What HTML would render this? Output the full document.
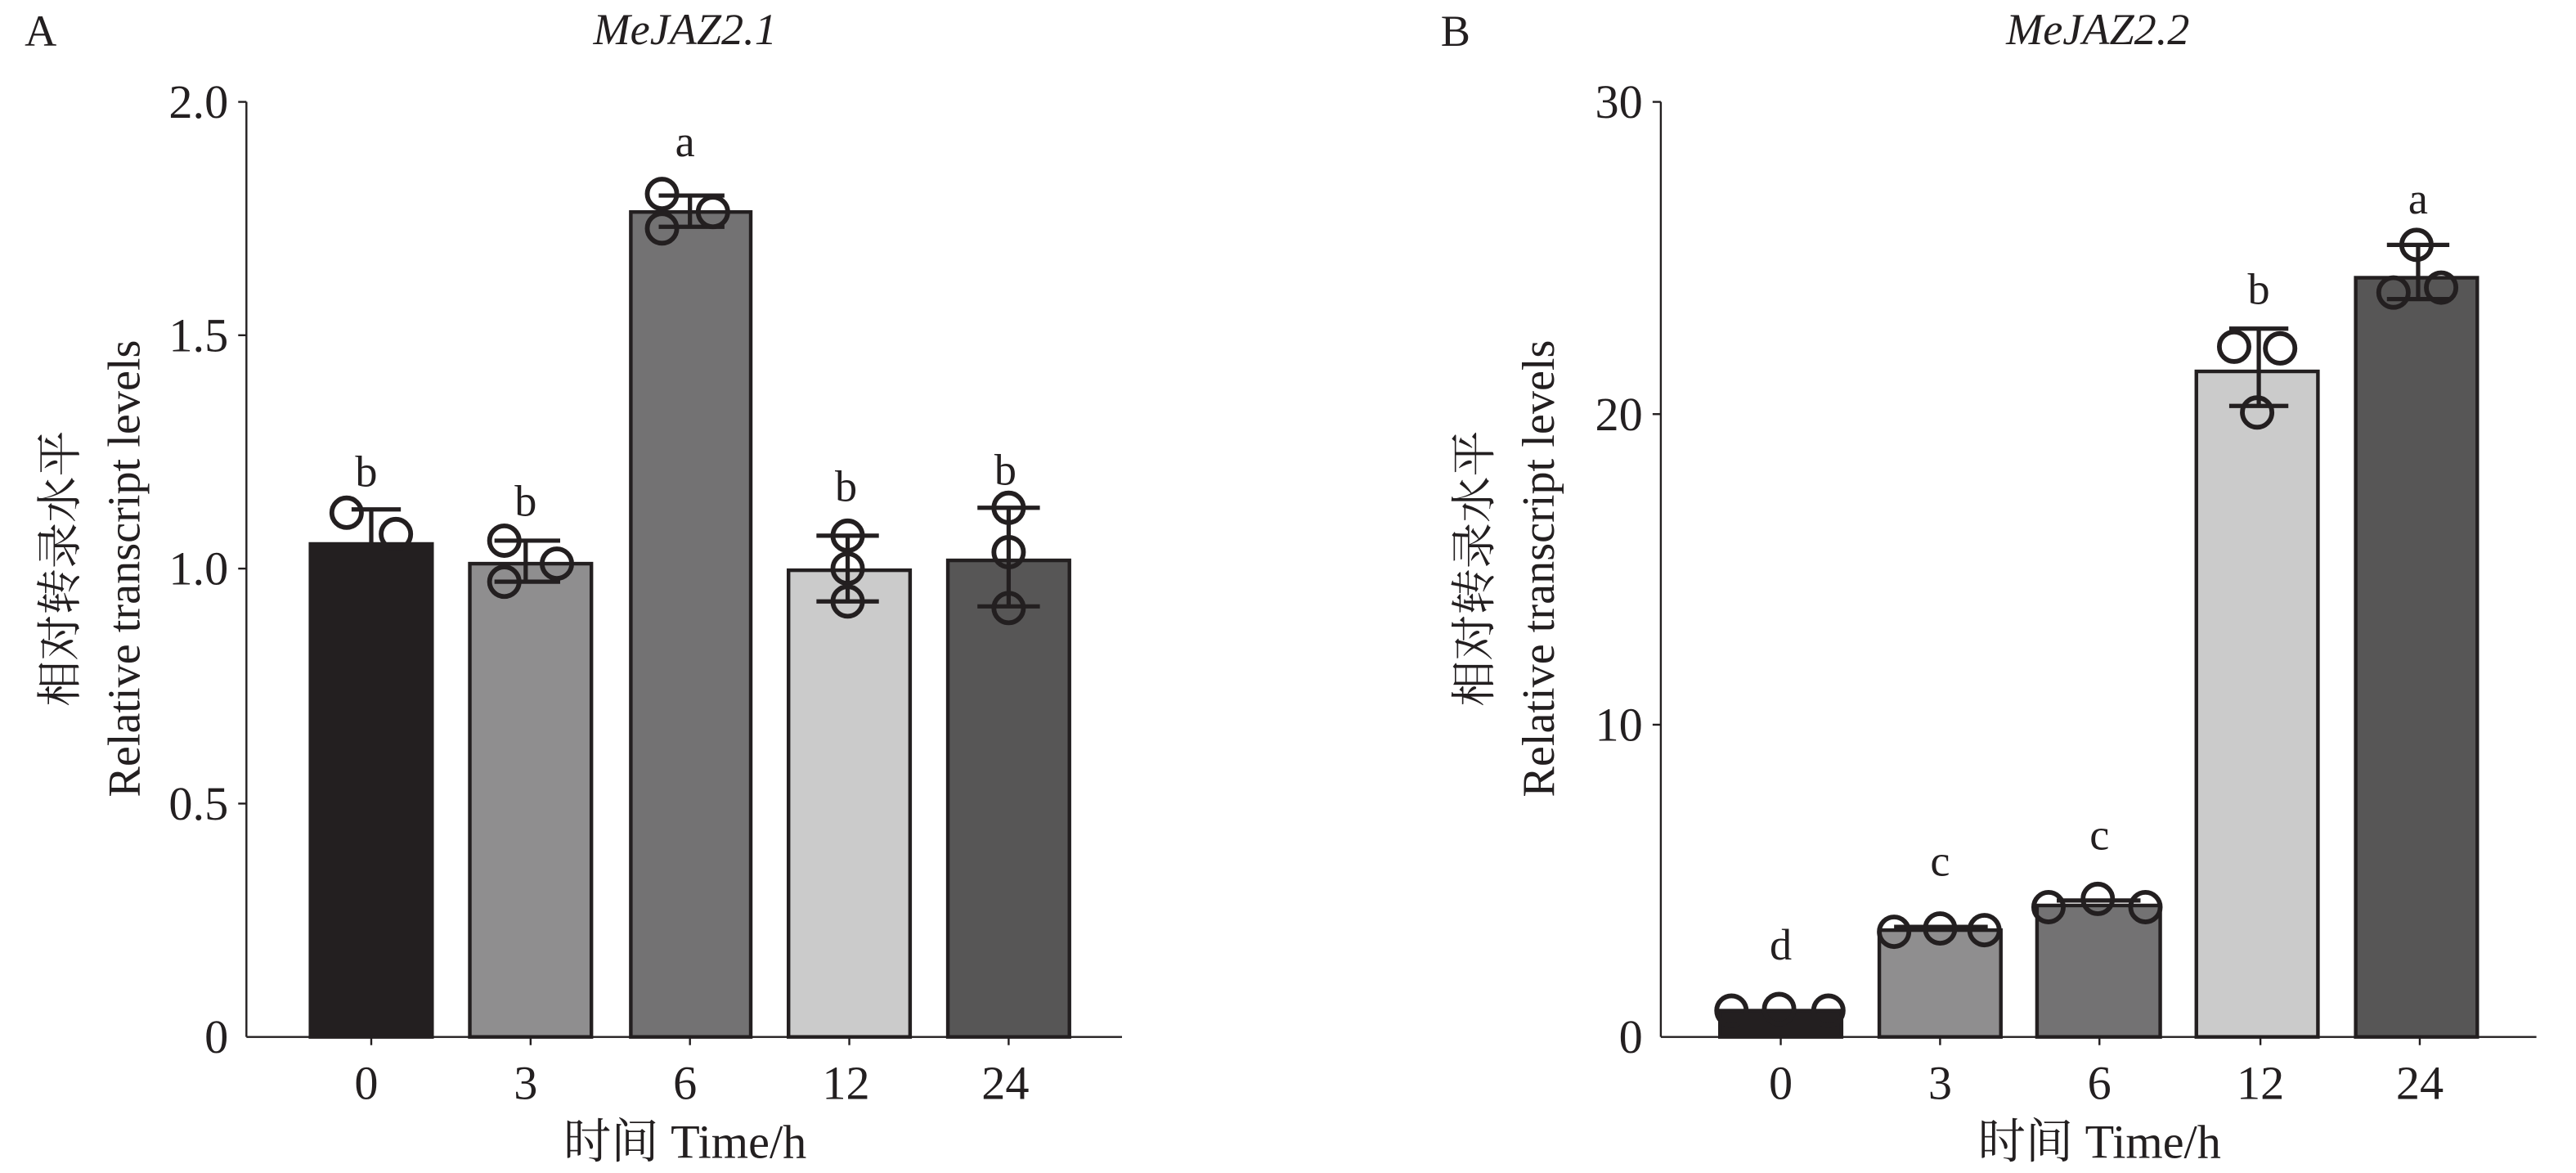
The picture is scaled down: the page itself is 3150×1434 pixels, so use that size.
<!DOCTYPE html>
<html><head><meta charset="utf-8"><style>html,body{margin:0;padding:0;background:#fff}svg{display:block}</style></head>
<body>
<svg width="3150" height="1434" viewBox="0 0 1568.1 713.8" preserveAspectRatio="none" xmlns="http://www.w3.org/2000/svg" font-family="'Liberation Serif','Noto Serif CJK SC',serif" fill="#231f20">
<g stroke="#231f20" stroke-width="1.2">
<line x1="150" y1="62" x2="150" y2="631"/><line x1="150" y1="631" x2="683" y2="631"/>
<line x1="145" y1="62" x2="150" y2="62"/><line x1="145" y1="204" x2="150" y2="204"/><line x1="145" y1="346" x2="150" y2="346"/><line x1="145" y1="489" x2="150" y2="489"/>
<line x1="226" y1="631" x2="226" y2="636"/><line x1="323" y1="631" x2="323" y2="636"/><line x1="420" y1="631" x2="420" y2="636"/><line x1="517" y1="631" x2="517" y2="636"/><line x1="614" y1="631" x2="614" y2="636"/>
<line x1="1011" y1="62" x2="1011" y2="631"/><line x1="1011" y1="631" x2="1544" y2="631"/>
<line x1="1006" y1="62" x2="1011" y2="62"/><line x1="1006" y1="252" x2="1011" y2="252"/><line x1="1006" y1="441" x2="1011" y2="441"/>
<line x1="1084" y1="631" x2="1084" y2="636"/><line x1="1181" y1="631" x2="1181" y2="636"/><line x1="1278" y1="631" x2="1278" y2="636"/><line x1="1376" y1="631" x2="1376" y2="636"/><line x1="1473" y1="631" x2="1473" y2="636"/>
</g>
<g stroke="#231f20" stroke-width="2.2">
<rect x="189" y="331" width="74" height="300" fill="#231f20"/>
<rect x="286" y="343" width="74" height="288" fill="#8f8e8f"/>
<rect x="384" y="129" width="73" height="502" fill="#737273"/>
<rect x="480" y="347" width="74" height="284" fill="#cbcbcb"/>
<rect x="577" y="341" width="74" height="290" fill="#575656"/>
<rect x="1047" y="615" width="74" height="16" fill="#231f20"/>
<rect x="1144" y="566" width="74" height="65" fill="#8f8e8f"/>
<rect x="1240" y="551" width="75" height="80" fill="#737273"/>
<rect x="1337" y="226" width="74" height="405" fill="#cbcbcb"/>
<rect x="1434" y="169" width="74" height="462" fill="#575656"/>
</g>
<g stroke="#231f20" stroke-width="2.6" fill="none">
<path d="M214 310H244M226 310V331"/>
<path d="M301 329H341M301 354H341M320 329V354"/>
<path d="M401 119H441M401 138H441M420 119V138"/>
<path d="M497 326H535M497 366H535M516 326V366"/>
<path d="M595 309H633M595 369H633M614 309V369"/>
<path d="M1357 200H1393M1357 247H1393M1375 200V247"/>
<path d="M1453 149H1491M1453 182H1491M1472 149V182"/>
<path d="M1153 564H1210M1252 548H1303"/>
<g fill="none" stroke-width="2.9">
<circle cx="211" cy="312" r="9"/><circle cx="241" cy="325" r="9"/>
<circle cx="307" cy="329" r="9"/><circle cx="339" cy="343" r="9"/><circle cx="307" cy="354" r="9"/>
<circle cx="403" cy="118" r="9"/><circle cx="434" cy="129" r="9"/><circle cx="403" cy="139" r="9"/>
<circle cx="516" cy="326" r="9"/><circle cx="516" cy="346" r="9"/><circle cx="516" cy="366" r="9"/>
<circle cx="614" cy="309" r="9"/><circle cx="614" cy="336" r="9"/><circle cx="614" cy="370" r="9"/>
<circle cx="1054" cy="615" r="9"/><circle cx="1083" cy="614" r="9"/><circle cx="1113" cy="615" r="9"/>
<circle cx="1153" cy="567" r="9"/><circle cx="1181" cy="565" r="9"/><circle cx="1208" cy="566" r="9"/>
<circle cx="1247" cy="552" r="9"/><circle cx="1277" cy="547" r="9"/><circle cx="1306" cy="552" r="9"/>
<circle cx="1360" cy="211" r="9"/><circle cx="1388" cy="212" r="9"/><circle cx="1374" cy="251" r="9"/>
<circle cx="1471" cy="149" r="9"/><circle cx="1486" cy="175" r="9"/><circle cx="1457" cy="178" r="9"/>
</g></g>
<g font-size="29" text-anchor="end" dominant-baseline="central">
<text x="139" y="62">2.0</text><text x="139" y="204">1.5</text><text x="139" y="346">1.0</text><text x="139" y="489">0.5</text><text x="139" y="631">0</text>
<text x="1000" y="62">30</text><text x="1000" y="252">20</text><text x="1000" y="441">10</text><text x="1000" y="631">0</text>
</g>
<g font-size="29" text-anchor="middle" dominant-baseline="central">
<text x="223" y="659">0</text><text x="320" y="659">3</text><text x="417" y="659">6</text><text x="515" y="659">12</text><text x="612" y="659">24</text>
<text x="1084" y="659">0</text><text x="1181" y="659">3</text><text x="1278" y="659">6</text><text x="1376" y="659">12</text><text x="1473" y="659">24</text>
<text x="417" y="695">时间 Time/h</text><text x="1278" y="695">时间 Time/h</text>
</g>
<g font-size="27" text-anchor="middle" dominant-baseline="central">
<text x="223" y="287">b</text><text x="320" y="305">b</text><text x="417" y="86">a</text><text x="515" y="296">b</text><text x="612" y="286">b</text>
<text x="1084" y="575">d</text><text x="1181" y="524">c</text><text x="1278" y="508">c</text><text x="1375" y="176">b</text><text x="1472" y="121">a</text>
</g>
<g font-size="27" text-anchor="middle" dominant-baseline="central">
<text x="417" y="18" font-style="italic">MeJAZ2.1</text><text x="1277" y="18" font-style="italic">MeJAZ2.2</text>
</g>
<g font-size="27">
<text x="15" y="28">A</text><text x="877" y="28">B</text>
</g>
<g font-size="28" text-anchor="middle" dominant-baseline="central">
<text transform="translate(37,346) rotate(-90)">相对转录水平</text>
<text transform="translate(76,346) rotate(-90)">Relative transcript levels</text>
<text transform="translate(898,346) rotate(-90)">相对转录水平</text>
<text transform="translate(937,346) rotate(-90)">Relative transcript levels</text>
</g>
</svg>
</body></html>
